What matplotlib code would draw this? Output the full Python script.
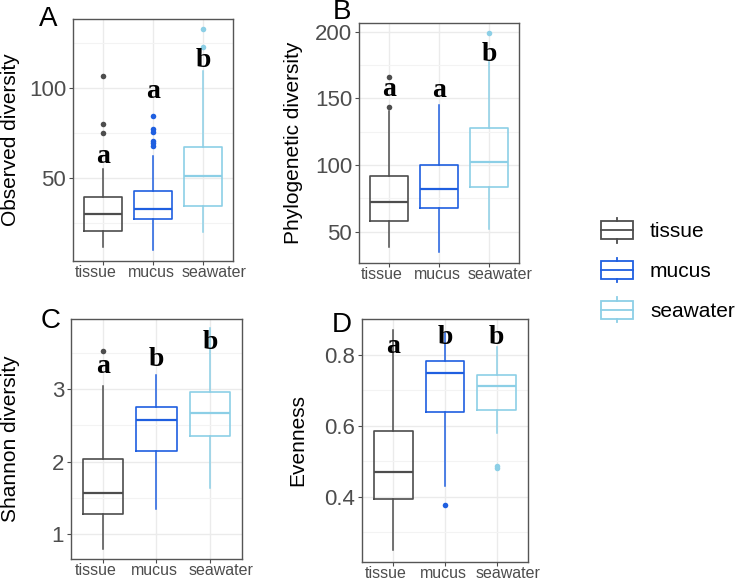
import matplotlib
matplotlib.use("Agg")
import matplotlib.pyplot as plt
from matplotlib.ticker import MultipleLocator
from matplotlib.legend_handler import HandlerBase
from matplotlib.patches import Rectangle, Patch
from matplotlib.lines import Line2D
from matplotlib.transforms import ScaledTranslation

plt.rcParams["font.family"] = ["Liberation Sans", "DejaVu Sans"]

groups = ["tissue", "mucus", "seawater"]
colors = ["#4D4D4D", "#1F5FE0", "#8CCFE6"]

# A - observed diversity
obs_low = [11.8, 9.9, 19.8]
obs_q1 = [20.9, 27.2, 34.7]
obs_med = [30.0, 32.6, 51.1]
obs_q3 = [39.4, 42.7, 67.3]
obs_high = [54.7, 62.1, 109.3]
obs_out = [[106.2, 80.0, 74.8], [84.1, 77.0, 75.7, 70.7, 69.2, 67.9], [122.4, 132.3]]
obs_letters = ["a", "a", "b"]
obs_letter_y = [62, 98, 115]

# B - phylogenetic diversity
pd_low = [38.3, 35.0, 51.8]
pd_q1 = [58.0, 67.5, 83.8]
pd_med = [72.3, 82.3, 102.0]
pd_q3 = [91.8, 99.8, 128.0]
pd_high = [140.5, 144.8, 177.5]
pd_out = [[143.8, 165.8], [], [198.8]]
pd_letters = ["a", "a", "b"]
pd_letter_y = [156.5, 156, 182.5]

# C - shannon diversity
sh_low = [0.80, 1.35, 1.64]
sh_q1 = [1.28, 2.15, 2.36]
sh_med = [1.57, 2.57, 2.67]
sh_q3 = [2.03, 2.76, 2.96]
sh_high = [3.04, 3.19, 3.85]
sh_out = [[3.53], [], []]
sh_letters = ["a", "b", "b"]
sh_letter_y = [3.32, 3.41, 3.64]

# D - evenness
ev_low = [0.25, 0.432, 0.58]
ev_q1 = [0.395, 0.638, 0.645]
ev_med = [0.47, 0.748, 0.711]
ev_q3 = [0.586, 0.783, 0.742]
ev_high = [0.87, 0.861, 0.823]
ev_out = [[], [0.377], [0.486, 0.481]]
ev_letters = ["a", "b", "b"]
ev_letter_y = [0.823, 0.85, 0.85]

# the x labels sit a bit spread out in the original (pixels)
label_shift = [-7, -2, 11]


class BoxKeyHandler(HandlerBase):
    def create_artists(self, legend, orig_handle, xdescent, ydescent,
                       width, height, fontsize, trans):
        c = orig_handle.get_edgecolor()
        x0, y0 = -xdescent, -ydescent
        bh = height * 0.72
        by = y0 + (height - bh) / 2
        box = Rectangle((x0, by), width, bh, fill=False, edgecolor=c,
                        lw=1.3, transform=trans)
        med = Line2D([x0, x0 + width], [by + bh / 2] * 2, color=c, lw=1.3,
                     transform=trans)
        wl = Line2D([x0 + width / 2] * 2, [y0, by], color=c, lw=1.3,
                    transform=trans)
        wh = Line2D([x0 + width / 2] * 2, [by + bh, y0 + height], color=c,
                    lw=1.3, transform=trans)
        return [box, med, wl, wh]


def panel(ax, low, q1, med, q3, high, out, letters, letter_y, ylim, major,
          ylabel, label_x):
    stats = []
    for i in range(3):
        stats.append(dict(whislo=low[i], q1=q1[i], med=med[i], q3=q3[i],
                          whishi=high[i], fliers=out[i]))
    art = ax.bxp(stats, positions=[1, 2, 3], widths=0.75, showcaps=False,
                 flierprops=dict(marker="o", markersize=4, markeredgewidth=0))
    for i, c in enumerate(colors):
        art["boxes"][i].set(color=c, lw=1.2)
        art["medians"][i].set(color=c, lw=1.6)
        for w in art["whiskers"][2 * i:2 * i + 2]:
            w.set(color=c, lw=1.1)
        art["fliers"][i].set(markerfacecolor=c)
    for i in range(3):
        ax.text(i + 1, letter_y[i], letters[i], ha="center", va="center",
                family="Liberation Serif", fontweight="bold", fontsize=20,
                color="black", zorder=5)
    ax.set_xlim(0.4, 3.6)
    ax.set_ylim(*ylim)
    ax.set_xticks([1, 2, 3])
    ax.set_xticklabels(["", "", ""])
    # category names drawn as text so they can be nudged sideways
    for i, g in enumerate(groups):
        tr = ax.get_xaxis_transform() + ScaledTranslation(
            label_shift[i] / 100, -4 / 100, fig.dpi_scale_trans)
        ax.text(i + 1, 0, g, transform=tr, ha="center", va="top",
                fontsize=11.5, color="#4D4D4D")
    ax.yaxis.set_major_locator(MultipleLocator(major))
    ax.yaxis.set_minor_locator(MultipleLocator(major / 2))
    ax.grid(which="major", color="#EBEBEB", lw=1.0)
    ax.grid(which="minor", axis="y", color="#F3F3F3", lw=0.8)
    ax.set_axisbelow(True)
    ax.tick_params(axis="x", length=3, width=0.8, colors="#4D4D4D")
    ax.tick_params(axis="y", labelsize=16, colors="#4D4D4D", length=3,
                   width=0.8, pad=2)
    ax.tick_params(which="minor", length=0)
    for s in ax.spines.values():
        s.set_color("#555555")
        s.set_linewidth(1.0)
    ax.set_ylabel(ylabel, fontsize=15, color="black")
    ax.yaxis.set_label_coords(label_x, 0.5)


fig = plt.figure(figsize=(7.38, 5.82), dpi=100)
axA = fig.add_axes([0.0989, 0.5515, 0.2168, 0.4158])
axB = fig.add_axes([0.4864, 0.5481, 0.2168, 0.4124])
axC = fig.add_axes([0.0962, 0.0395, 0.2317, 0.4124])
axD = fig.add_axes([0.4905, 0.0344, 0.2249, 0.4175])

panel(axA, obs_low, obs_q1, obs_med, obs_q3, obs_high, obs_out, obs_letters,
      obs_letter_y, (4, 138), 50, "Observed diversity", -0.33)
panel(axB, pd_low, pd_q1, pd_med, pd_q3, pd_high, pd_out, pd_letters,
      pd_letter_y, (26.5, 206.5), 50, "Phylogenetic diversity", -0.35)
panel(axC, sh_low, sh_q1, sh_med, sh_q3, sh_high, sh_out, sh_letters,
      sh_letter_y, (0.655, 3.97), 1, "Shannon diversity", -0.30)
panel(axD, ev_low, ev_q1, ev_med, ev_q3, ev_high, ev_out, ev_letters,
      ev_letter_y, (0.217, 0.901), 0.2, "Evenness", -0.33)

for lab, x, y in [("A", 39, 26), ("B", 333, 19), ("C", 41, 328), ("D", 332, 332)]:
    fig.text(x / 738, 1 - y / 582, lab, fontsize=20, ha="left", va="baseline")

handles = [Patch(edgecolor=c, facecolor="none") for c in colors]
fig.legend(handles, groups, handler_map={Patch: BoxKeyHandler()},
           loc="upper left", bbox_to_anchor=(601 / 738, 1 - 218 / 582),
           frameon=False, fontsize=15, handlelength=1.55, handleheight=1.45,
           labelspacing=0.72, handletextpad=0.8, borderpad=0,
           borderaxespad=0)

fig.savefig("out.png", dpi=100)
